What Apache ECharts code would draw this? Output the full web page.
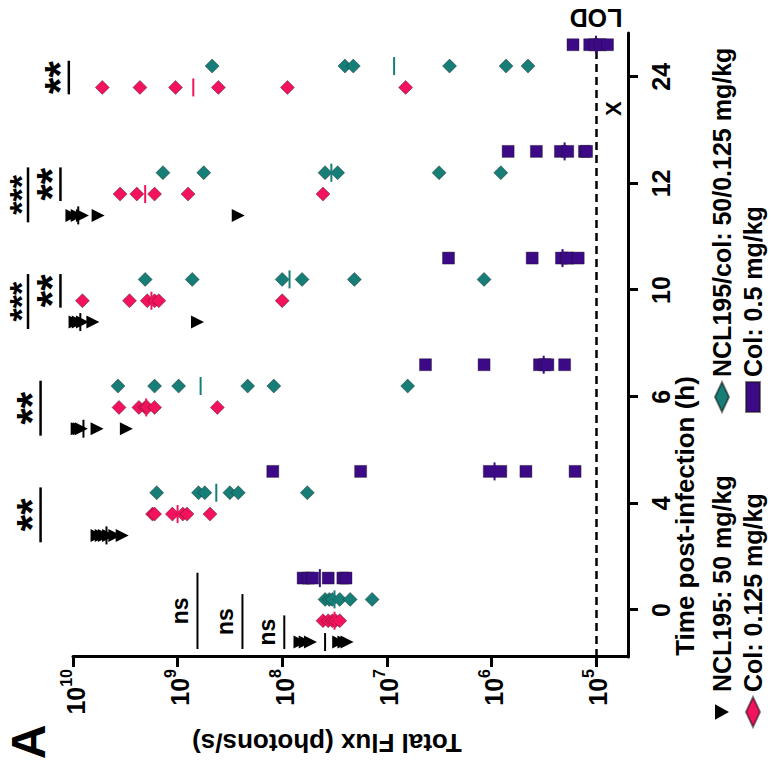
<!DOCTYPE html>
<html>
<head>
<meta charset="utf-8">
<script src="https://cdn.jsdelivr.net/npm/echarts@6.0.0/dist/echarts.min.js"></script>
<style>
  html, body { margin: 0; padding: 0; background: #fff; overflow: hidden; width: 772px; height: 776px; }
  /* the figure is laid out upright, then turned a quarter turn counter-clockwise */
  #chart { position: absolute; left: -2px; top: 2px; width: 776px; height: 772px;
           transform: rotate(-90deg); transform-origin: 50% 50%; }
</style>
</head>
<body>
<div id="chart"></div>
<script>
// Sampling times (h post-infection)
const timeLabels = ['0', '4', '6', '10', '12', '24'];

const seriesNames = [
  'NCL195: 50 mg/kg',
  'Col: 0.125 mg/kg',
  'NCL195/col: 50/0.125 mg/kg',
  'Col: 0.5 mg/kg'
];

// log10 of total flux (photons/s), one inner list per time point
const ncl50Log = [
  [7.83, 7.78, 7.73, 7.46, 7.41, 7.38],
  [9.77, 9.73, 9.70, 9.66, 9.60, 9.53],
  [9.96, 9.94, 9.92, 9.77, 9.49],
  [9.98, 9.95, 9.91, 9.81, 8.81],
  [10.01, 9.96, 9.91, 9.76, 8.42],
  []
];
const col0125Log = [
  [7.61, 7.56, 7.52, 7.49, 7.45],
  [9.24, 9.22, 9.05, 8.95, 8.91, 8.69],
  [9.56, 9.37, 9.31, 9.29, 9.22, 8.62],
  [9.91, 9.46, 9.29, 9.22, 9.18, 8.00],
  [9.55, 9.39, 9.22, 8.90, 7.61],
  [9.72, 9.36, 9.02, 8.61, 7.95, 6.82]
];
const comboLog = [
  [7.59, 7.55, 7.52, 7.45, 7.35, 7.14],
  [9.20, 8.80, 8.74, 8.50, 8.42, 7.76],
  [9.57, 9.22, 8.99, 8.33, 8.08, 6.80],
  [9.31, 8.86, 8.00, 7.81, 7.31, 6.07],
  [9.14, 8.75, 7.59, 7.47, 6.50, 5.91],
  [8.67, 7.40, 7.32, 6.40, 5.86, 5.65]
];
const col05Log = [
  [7.80, 7.75, 7.71, 7.56, 7.42, 7.39],
  [8.09, 7.25, 6.02, 5.91, 5.67, 5.20],
  [6.63, 6.07, 5.54, 5.49, 5.46, 5.30],
  [6.41, 5.61, 5.33, 5.28, 5.27, 5.17],
  [5.84, 5.57, 5.34, 5.27, 5.11, 5.09],
  [5.22, 5.06, 5.01, 4.96, 4.89]
];

// group centre line (log10 flux) per time point; null = no animals left
const ncl50Mid   = [7.59, 9.68, 9.90, 9.93, 9.95, null];
const col0125Mid = [7.50, 9.00, 9.30, 9.25, 9.31, 8.85];
const comboMid   = [7.50, 8.63, 8.78, 7.93, 7.53, 6.93];
const col05Mid   = [7.64, 5.97, 5.50, 5.32, 5.30, 5.00];

// pairwise comparisons: time index, group from / to, bracket level (log10 flux), result
const sigTime  = [0, 0, 0, 1, 2, 3, 3, 4, 4, 5];
const sigFrom  = [0, 0, 0, 0, 0, 0, 1, 0, 1, 1];
const sigTo    = [3, 2, 1, 2, 2, 2, 2, 2, 2, 2];
const sigLevel = [8.81, 8.38, 7.98, 10.31, 10.31, 10.43, 10.12, 10.43, 10.12, 10.04];
const sigText  = ['ns', 'ns', 'ns', '**', '**', '***', '**', '***', '**', '**'];

// limit of detection (photons/s)
const lodFlux = 1e5;
// flux axis decades
const fluxTicks = [1e5, 1e6, 1e7, 1e8, 1e9, 1e10];

const FONT = '"Liberation Sans", Arial, Helvetica, sans-serif';
const groupLogs = [ncl50Log, col0125Log, comboLog, col05Log];
const groupMids = [ncl50Mid, col0125Mid, comboMid, col05Mid];
const groupOffset = [-0.30, -0.10, 0.10, 0.30];
const colors = ['#000000', '#F2135C', '#167D77', '#3C0A86'];
const symbols = ['triangle', 'diamond', 'diamond', 'rect'];
const symbolSizes = [13, 14, 14, 12];
const symbolRot = [180, 0, 0, 0];

const chart = echarts.init(document.getElementById('chart'), null, { renderer: 'svg' });

const scatterSeries = groupLogs.map((logs, s) => {
  const data = [];
  logs.forEach((vals, t) => vals.forEach(v => data.push([t + groupOffset[s], Math.pow(10, v)])));
  const series = {
    type: 'scatter',
    name: seriesNames[s],
    data: data,
    symbol: symbols[s],
    symbolSize: symbolSizes[s],
    symbolRotate: symbolRot[s],
    clip: false,
    z: 3,
    itemStyle: {
      color: colors[s],
      borderColor: s === 0 ? '#000' : 'rgba(20,20,20,0.55)',
      borderWidth: s === 0 ? 0 : 0.7,
      opacity: 1
    },
    emphasis: { disabled: true }
  };
  if (s === 3) {
    series.markLine = {
      silent: true,
      symbol: ['none', 'none'],
      z: 1,
      label: { show: false },
      lineStyle: { color: '#000', width: 2.5, type: [8, 5] },
      data: [{ yAxis: lodFlux }]
    };
  }
  return series;
});

// centre lines
const midX = [], midY = [], midColor = [];
groupMids.forEach((mids, s) => mids.forEach((m, t) => {
  if (m !== null) { midX.push(t + groupOffset[s]); midY.push(Math.pow(10, m)); midColor.push(colors[s]); }
}));
const midSeries = {
  type: 'custom',
  coordinateSystem: 'cartesian2d',
  silent: true,
  z: 5,
  data: midX.map((x, i) => [x, midY[i]]),
  renderItem: (params, api) => {
    const i = params.dataIndex;
    const p = api.coord([midX[i], midY[i]]);
    return {
      type: 'line',
      shape: { x1: p[0] - 9, y1: p[1], x2: p[0] + 9, y2: p[1] },
      style: { stroke: midColor[i], lineWidth: 2 }
    };
  }
};

// significance brackets
const sigSeries = {
  type: 'custom',
  coordinateSystem: 'cartesian2d',
  silent: true,
  z: 6,
  data: sigLevel.map((lv, i) => [sigTime[i], Math.pow(10, lv)]),
  renderItem: (params, api) => {
    const i = params.dataIndex;
    const y = Math.pow(10, sigLevel[i]);
    const a = api.coord([sigTime[i] + groupOffset[sigFrom[i]] - 0.065, y]);
    const b = api.coord([sigTime[i] + groupOffset[sigTo[i]] + 0.05, y]);
    const isNs = sigText[i] === 'ns';
    let ty = a[1] - (isNs ? 17 : 9);
    let va = 'middle';
    let fs = isNs ? 23 : 42;
    // brackets near the top edge: hang the stars just inside the edge so they stay in view
    if (!isNs && ty - 21 < 0) { ty = 4; va = 'top'; fs = 34; }
    return {
      type: 'group',
      children: [
        { type: 'line', shape: { x1: a[0], y1: a[1], x2: b[0], y2: b[1] },
          style: { stroke: '#000', lineWidth: isNs ? 2 : 2.5 } },
        { type: 'text', x: (a[0] + b[0]) / 2, y: ty,
          style: { text: sigText[i], fill: '#000', align: 'center', verticalAlign: va,
                   fontFamily: FONT, fontWeight: 'bold', fontSize: fs } }
      ]
    };
  }
};

// LOD caption and the "X" for the group with no survivors at 24 h
const noteSeries = {
  type: 'custom',
  coordinateSystem: 'cartesian2d',
  silent: true,
  z: 6,
  data: [[5.55, lodFlux], [5 + groupOffset[0], Math.pow(10, 4.83)]],
  renderItem: (params, api) => {
    const i = params.dataIndex;
    if (i === 0) {
      const p = api.coord([5.55, lodFlux]);
      return { type: 'text', x: p[0], y: p[1], rotation: Math.PI / 2,
        style: { text: 'LOD', fill: '#000', align: 'center', verticalAlign: 'middle',
                 fontFamily: FONT, fontWeight: 'bold', fontSize: 25 } };
    }
    const p = api.coord([5 + groupOffset[0], Math.pow(10, 4.83)]);
    return { type: 'text', x: p[0], y: p[1],
      style: { text: 'X', fill: '#000', align: 'center', verticalAlign: 'middle',
               fontFamily: FONT, fontWeight: 'bold', fontSize: 22 } };
  }
};

const legendText = { fontFamily: FONT, fontWeight: 'bold', fontSize: 25, color: '#000', lineHeight: 26 };
const downTriangle = 'path://M0,0L12,0L6,11Z';

chart.setOption({
  animation: false,
  backgroundColor: '#fff',
  grid: { left: 119, right: 33, top: 73, bottom: 144, containLabel: false, outerBoundsMode: 'none' },
  xAxis: {
    type: 'value',
    min: -0.44,
    max: 5.41,
    splitLine: { show: false },
    axisLine: { show: true, onZero: false, lineStyle: { color: '#000', width: 3 } },
    axisTick: { show: true, customValues: [0, 1, 2, 3, 4, 5], length: 10, inside: false,
                lineStyle: { color: '#000', width: 3 } },
    axisLabel: {
      customValues: [0, 1, 2, 3, 4, 5],
      formatter: v => timeLabels[Math.round(v)],
      margin: 20,
      color: '#000', fontFamily: FONT, fontWeight: 'bold', fontSize: 25
    }
  },
  yAxis: {
    type: 'log',
    logBase: 10,
    min: Math.pow(10, 4.694),
    max: 1e10,
    splitLine: { show: false },
    axisLine: { show: true, onZero: false, lineStyle: { color: '#000', width: 3 } },
    axisTick: { show: true, customValues: fluxTicks, length: 10, inside: false,
                lineStyle: { color: '#000', width: 3 } },
    axisLabel: {
      customValues: fluxTicks,
      margin: 12,
      formatter: v => '{b|10}{s|' + Math.round(Math.log10(v)) + '}',
      rich: {
        b: { fontFamily: FONT, fontWeight: 'bold', fontSize: 25, color: '#000', lineHeight: 30, verticalAlign: 'bottom' },
        s: { fontFamily: FONT, fontWeight: 'bold', fontSize: 16, color: '#000', lineHeight: 16, verticalAlign: 'top' }
      }
    }
  },
  legend: [
    { data: [{ name: seriesNames[0], icon: downTriangle }, seriesNames[1]],
      orient: 'vertical', left: 48, top: 709, padding: 0,
      itemWidth: 30, itemHeight: 14, itemGap: 5, selectedMode: false, textStyle: legendText },
    { data: [seriesNames[2], seriesNames[3]], orient: 'vertical', left: 363, top: 709, padding: 0,
      itemWidth: 30, itemHeight: 14, itemGap: 5, selectedMode: false, textStyle: legendText }
  ],
  graphic: [
    { type: 'text', x: 34, y: 28, silent: true,
      style: { text: 'A', fill: '#000', align: 'center', verticalAlign: 'middle',
               fontFamily: FONT, fontWeight: 'bold', fontSize: 48 } },
    { type: 'text', x: 33, y: 327, rotation: Math.PI / 2, silent: true,
      style: { text: 'Total Flux (photons/s)', fill: '#000', align: 'center', verticalAlign: 'middle',
               fontFamily: FONT, fontWeight: 'bold', fontSize: 26 } },
    { type: 'text', x: 260, y: 685, silent: true,
      style: { text: 'Time post-infection (h)', fill: '#000', align: 'center', verticalAlign: 'middle',
               fontFamily: FONT, fontWeight: 'bold', fontSize: 26 } }
  ],
  series: scatterSeries.concat([midSeries, sigSeries, noteSeries])
});
</script>
</body>
</html>
